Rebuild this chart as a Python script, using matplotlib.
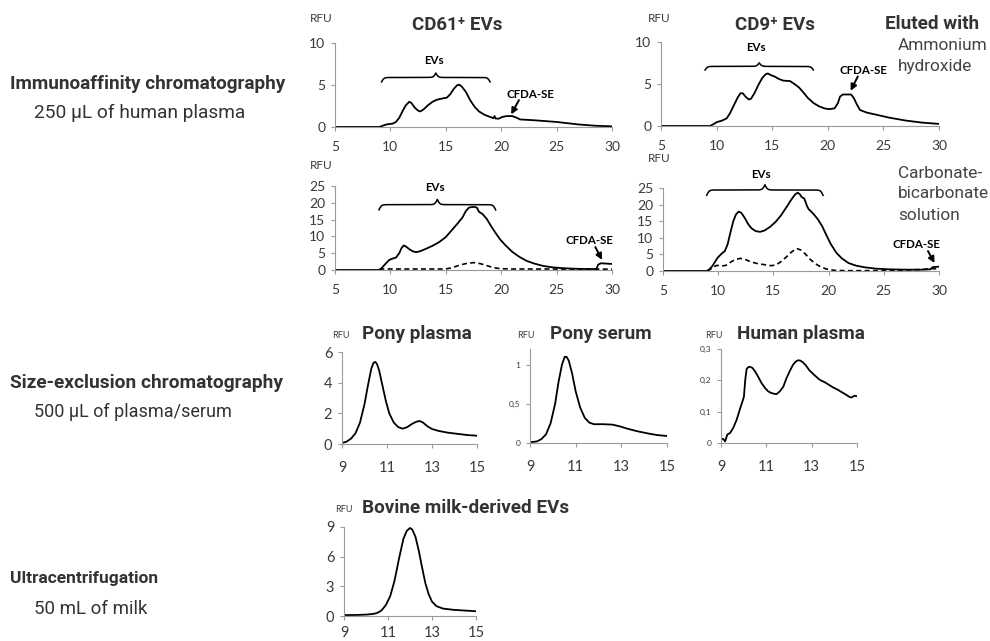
import numpy as np
import matplotlib
matplotlib.use("Agg")
from matplotlib import pyplot as plt

plt.rcParams['font.family'] = ['Lato', 'DejaVu Sans']

W, H = 990, 641
TXT = '#333333'
AXC = '#9a9a9a'

# ---- immunoaffinity, ammonium hydroxide elution ----
cd61_ah_x = [5, 9.0, 9.3, 9.7, 10.2, 10.5, 10.8, 11.1, 11.4, 11.7, 11.9, 12.2, 12.5, 12.7, 13.0,
             13.4, 13.8, 14.2, 14.7, 15.1, 15.4, 15.7, 16.0, 16.2, 16.45, 16.8, 17.2, 17.6,
             18.0, 18.5, 19.0, 19.3, 19.4, 19.5, 19.8, 20.1, 20.5, 21.0, 21.4, 21.7, 23.0,
             25.0, 27.0, 28.5, 30]
cd61_ah_y = [0, 0, 0.15, 0.32, 0.4, 0.6, 1.1, 1.9, 2.6, 3.0, 2.85, 2.3, 1.95, 1.85, 2.1,
             2.6, 3.0, 3.25, 3.4, 3.5, 3.9, 4.5, 4.95, 5.05, 4.8, 4.2, 3.2, 2.4,
             1.85, 1.45, 1.2, 1.05, 1.3, 1.0, 1.0, 1.2, 1.3, 1.3, 1.1, 0.9, 0.8,
             0.6, 0.3, 0.15, 0.08]

cd9_ah_x = [5, 9.4, 9.7, 10.0, 10.5, 10.9, 11.2, 11.6, 11.9, 12.15, 12.35, 12.6, 12.9, 13.1,
            13.4, 13.8, 14.1, 14.4, 14.6, 14.9, 15.2, 15.6, 16.0, 16.6, 17.0, 17.4, 17.8,
            18.2, 18.7, 19.2, 19.7, 20.1, 20.6, 20.9, 21.1, 21.35, 22.1, 22.35, 22.6, 22.9,
            23.5, 24.5, 25.5, 27.0, 28.5, 30]
cd9_ah_y = [0, 0, 0.2, 0.45, 0.65, 0.9, 1.5, 2.6, 3.4, 3.9, 3.9, 3.5, 3.15, 3.25,
            3.9, 5.0, 5.7, 6.15, 6.25, 6.05, 5.9, 5.6, 5.4, 5.35, 5.0, 4.6, 4.0,
            3.35, 2.75, 2.35, 2.1, 2.0, 2.1, 2.7, 3.5, 3.75, 3.75, 3.3, 2.6, 1.9,
            1.6, 1.3, 1.0, 0.65, 0.4, 0.25]

# ---- immunoaffinity, carbonate-bicarbonate elution ----
cd61_cb_x = [5, 9.05, 9.3, 9.6, 9.9, 10.2, 10.5, 10.8, 11.0, 11.2, 11.4, 11.7, 12.0, 12.3,
             12.7, 13.2, 13.8, 14.4, 15.0, 15.5, 16.0, 16.5, 16.8, 17.1, 17.5, 17.8, 18.0,
             18.3, 18.7, 19.1, 19.5, 19.9, 20.4, 21.0, 21.6, 22.3, 23.0, 23.8, 24.6, 25.5,
             26.5, 27.5, 28.6, 28.75, 29.0, 30]
cd61_cb_y = [0, 0, 0.9, 2.0, 3.0, 3.4, 3.7, 5.0, 6.5, 7.3, 7.0, 6.2, 5.6, 5.3,
             5.6, 6.3, 7.2, 8.3, 9.8, 11.7, 13.6, 15.6, 17.5, 18.6, 18.8, 18.6, 17.3,
             16.7, 15.2, 13.0, 11.0, 9.1, 7.3, 5.4, 4.0, 2.7, 1.9, 1.2, 0.8, 0.55,
             0.4, 0.3, 0.3, 1.6, 2.0, 1.8]
cd61_cb_ctrl_x = [9.0, 15.0, 15.6, 16.2, 16.8, 17.5, 18.1, 18.7, 19.3, 19.9, 21.0, 30]
cd61_cb_ctrl_y = [0.3, 0.3, 0.7, 1.4, 1.9, 2.2, 1.9, 1.3, 0.7, 0.4, 0.3, 0.25]

cd9_cb_x = [5, 8.98, 9.2, 9.45, 9.7, 9.95, 10.3, 10.6, 10.85, 11.1, 11.35, 11.6, 11.85, 12.1,
            12.4, 12.7, 13.0, 13.4, 13.8, 14.2, 14.7, 15.2, 15.7, 16.2, 16.6, 16.95, 17.2,
            17.4, 17.55, 17.8, 18.05, 18.2, 18.6, 19.0, 19.4, 19.8, 20.2, 20.7, 21.2, 21.8,
            22.5, 23.3, 24.3, 25.5, 27.0, 28.5, 29.2, 29.45, 30]
cd9_cb_y = [0, 0, 0.5, 1.4, 2.7, 4.0, 5.2, 6.0, 8.0, 11.5, 14.8, 17.0, 17.9, 17.5,
            16.0, 14.2, 12.9, 12.0, 11.8, 12.2, 13.3, 14.8, 16.8, 19.3, 21.4, 23.0, 23.6,
            23.1, 22.3, 21.8, 19.5, 18.6, 17.3, 15.7, 13.6, 10.8, 8.1, 5.5, 3.8, 2.4,
            1.6, 1.1, 0.7, 0.5, 0.4, 0.4, 0.5, 1.2, 1.3]
cd9_cb_ctrl_x = [9.0, 9.3, 9.6, 9.9, 10.3, 10.7, 11.1, 11.5, 12.0, 12.5, 13.0, 13.6, 14.2, 14.8,
                 15.2, 15.6, 16.1, 16.6, 17.1, 17.5, 17.9, 18.3, 18.8, 19.3, 19.8, 20.5, 21.5,
                 25.0, 28.0, 29.5, 30]
cd9_cb_ctrl_y = [0.0, 0.5, 1.3, 1.7, 1.5, 1.7, 2.6, 3.4, 3.8, 3.4, 2.7, 2.2, 1.9, 1.6,
                 1.8, 2.6, 4.0, 5.6, 6.8, 6.3, 5.1, 3.6, 2.2, 1.2, 0.6, 0.2, 0.1,
                 0.1, 0.4, 0.7, 0.7]

# ---- size-exclusion chromatography ----
pony_plasma_x = [9.0, 9.2, 9.4, 9.6, 9.8, 10.0, 10.15, 10.3, 10.4, 10.48, 10.56, 10.65, 10.8,
                 10.95, 11.1, 11.3, 11.5, 11.7, 11.9, 12.1, 12.3, 12.45, 12.6, 12.8, 13.0,
                 13.3, 13.7, 14.2, 14.6, 15.0]
pony_plasma_y = [0.07, 0.15, 0.35, 0.7, 1.4, 2.6, 3.8, 4.9, 5.3, 5.35, 5.2, 4.8, 3.8,
                 2.8, 2.0, 1.4, 1.1, 1.0, 1.1, 1.3, 1.45, 1.5, 1.4, 1.15, 0.98,
                 0.85, 0.74, 0.65, 0.58, 0.54]

pony_serum_x = [9.0, 9.3, 9.5, 9.7, 9.9, 10.1, 10.25, 10.4, 10.52, 10.6, 10.7, 10.85, 11.0,
                11.2, 11.4, 11.6, 11.8, 12.2, 12.6, 12.9, 13.3, 13.7, 14.2, 14.6, 15.0]
pony_serum_y = [0.01, 0.02, 0.05, 0.11, 0.25, 0.5, 0.78, 1.0, 1.1, 1.1, 1.05, 0.88, 0.66,
                0.45, 0.32, 0.26, 0.24, 0.24, 0.235, 0.215, 0.18, 0.15, 0.12, 0.1, 0.09]

human_plasma_x = [9.0, 9.1, 9.18, 9.28, 9.4, 9.54, 9.69, 9.84, 10.01, 10.07, 10.13, 10.2,
                  10.28, 10.38, 10.5, 10.65, 10.79, 10.95, 11.08, 11.2, 11.35, 11.45, 11.6,
                  11.75, 11.89, 12.05, 12.18, 12.3, 12.4, 12.5, 12.62, 12.75, 12.9, 13.1,
                  13.35, 13.6, 13.93, 14.15, 14.38, 14.5, 14.67, 14.75, 14.89, 15.0]
human_plasma_y = [0.013, 0.013, 0.005, 0.027, 0.032, 0.048, 0.074, 0.109, 0.147, 0.202, 0.236,
                  0.242, 0.243, 0.24, 0.229, 0.21, 0.191, 0.175, 0.165, 0.16, 0.157, 0.156,
                  0.165, 0.18, 0.207, 0.232, 0.25, 0.26, 0.264, 0.263, 0.257, 0.247, 0.232,
                  0.218, 0.202, 0.193, 0.178, 0.17, 0.16, 0.155, 0.147, 0.145, 0.151, 0.149]

# ---- ultracentrifugation ----
bovine_x = [9.0, 9.5, 10.0, 10.3, 10.5, 10.7, 10.9, 11.1, 11.3, 11.5, 11.7, 11.85, 12.0, 12.1,
            12.25, 12.4, 12.55, 12.7, 12.85, 13.0, 13.2, 13.5, 14.0, 14.5, 15.0]
bovine_y = [0.1, 0.1, 0.14, 0.2, 0.3, 0.55, 1.1, 2.0, 3.6, 5.8, 7.8, 8.6, 8.9, 8.75,
            8.0, 6.6, 4.9, 3.3, 2.2, 1.45, 1.0, 0.75, 0.62, 0.55, 0.48]

fig = plt.figure(figsize=(W / 100, H / 100), dpi=100)


def px_axes(l, t, r, b):
    return fig.add_axes([l / W, 1 - b / H, (r - l) / W, (b - t) / H])


def ftxt(x, y, s, **kw):
    kw.setdefault('va', 'center')
    kw.setdefault('color', TXT)
    fig.text(x / W, 1 - y / H, s, **kw)


def style(ax, xlim, ylim, xticks, yticks, yfmt=None, xsize=10, ysize=10, xpad=7):
    ax.set_xlim(xlim)
    ax.set_ylim(ylim)
    ax.set_xticks(xticks)
    ax.set_yticks(yticks)
    if yfmt:
        ax.set_yticklabels(yfmt)
    for s in ['top', 'right']:
        ax.spines[s].set_visible(False)
    for s in ['left', 'bottom']:
        ax.spines[s].set_color(AXC)
        ax.spines[s].set_linewidth(0.8)
    ax.tick_params(axis='x', length=3, color=AXC, width=0.8, labelsize=xsize,
                   labelcolor='#3a3a3a', pad=xpad)
    ax.tick_params(axis='y', length=3, color=AXC, width=0.8, labelsize=ysize,
                   labelcolor='#3a3a3a', pad=4)
    ax.patch.set_alpha(0)


def curve(ax, x, y, **kw):
    ax.plot(x, y, color='black', lw=1.3, solid_joinstyle='round',
            solid_capstyle='round', **kw)


def brace(ax, x0, x1, y, h, b=9.0):
    xm = (x0 + x1) / 2
    xs = np.linspace(x0, xm, 120)
    f = 1 / (1 + np.exp(-b * (xs - x0))) + 1 / (1 + np.exp(-b * (xs - xm)))
    ys = y + (f - 0.5) * h
    xx = np.concatenate([xs, (2 * xm - xs)[::-1]])
    yy = np.concatenate([ys, ys[::-1]])
    ax.plot(xx, yy, color='black', lw=1.1, clip_on=False)


def note(ax, x, y, s):
    ax.text(x, y, s, ha='center', va='center', fontsize=8.3, fontweight='bold',
            color='black', clip_on=False)


def arrow(ax, tip, tail):
    ax.annotate('', xy=tip, xytext=tail,
                arrowprops=dict(arrowstyle='-|>', color='black', lw=1.4,
                                mutation_scale=9, shrinkA=0, shrinkB=0),
                annotation_clip=False)


# top row: ammonium hydroxide
ax1 = px_axes(335, 43, 612, 127)
curve(ax1, cd61_ah_x, cd61_ah_y)
style(ax1, (5, 30), (0, 10), [5, 10, 15, 20, 25, 30], [0, 5, 10])
brace(ax1, 9.2, 19.0, 5.37, 1.05)
note(ax1, 13.9, 7.9, 'EVs')
note(ax1, 22.6, 3.9, 'CFDA-SE')
arrow(ax1, (20.9, 1.5), (21.6, 3.2))

ax2 = px_axes(661, 42, 939, 126)
curve(ax2, cd9_ah_x, cd9_ah_y)
style(ax2, (5, 30), (0, 10), [5, 10, 15, 20, 25, 30], [0, 5, 10])
brace(ax2, 8.96, 18.7, 6.67, 0.85)
note(ax2, 13.5, 9.3, 'EVs')
note(ax2, 23.2, 6.6, 'CFDA-SE')
arrow(ax2, (22.05, 4.2), (22.7, 5.9))

# second row: carbonate-bicarbonate
ax3 = px_axes(335, 186, 612, 270)
curve(ax3, cd61_cb_x, cd61_cb_y)
ax3.plot(cd61_cb_ctrl_x, cd61_cb_ctrl_y, color='black', lw=1.2, dashes=(3, 2))
style(ax3, (5, 30), (0, 25), [5, 10, 15, 20, 25, 30], [0, 5, 10, 15, 20, 25])
brace(ax3, 8.97, 19.5, 17.9, 3.1)
note(ax3, 14.0, 24.6, 'EVs')
note(ax3, 28.0, 8.7, 'CFDA-SE')
arrow(ax3, (29.1, 3.0), (28.5, 6.8))

ax4 = px_axes(663, 188, 939, 271)
curve(ax4, cd9_cb_x, cd9_cb_y)
ax4.plot(cd9_cb_ctrl_x, cd9_cb_ctrl_y, color='black', lw=1.2, dashes=(3, 2))
style(ax4, (5, 30), (0, 25), [5, 10, 15, 20, 25, 30], [0, 5, 10, 15, 20, 25])
brace(ax4, 8.96, 19.5, 22.8, 3.2)
note(ax4, 13.9, 29.0, 'EVs')
note(ax4, 28.0, 8.0, 'CFDA-SE')
arrow(ax4, (29.6, 2.4), (29.0, 6.0))

# size-exclusion row
ax5 = px_axes(342, 352, 477, 444)
curve(ax5, pony_plasma_x, pony_plasma_y)
style(ax5, (9, 15), (0, 6), [9, 11, 13, 15], [0, 2, 4, 6], xsize=10.5, ysize=10.5, xpad=9)

ax6 = px_axes(530, 349, 667, 443)
curve(ax6, pony_serum_x, pony_serum_y)
style(ax6, (9, 15), (0, 1.2), [9, 11, 13, 15], [0, 0.5, 1], yfmt=['0', '0,5', '1'],
      xsize=10.5, ysize=6, xpad=9)

ax7 = px_axes(721, 349, 857, 443)
ax7.plot(human_plasma_x, human_plasma_y, color='black', lw=1.3, solid_joinstyle='round')
style(ax7, (9, 15), (0, 0.3), [9, 11, 13, 15], [0, 0.1, 0.2, 0.3],
      yfmt=['0', '0,1', '0,2', '0,3'], xsize=10.5, ysize=6, xpad=9)

# ultracentrifugation row
ax8 = px_axes(344, 527, 476, 616)
curve(ax8, bovine_x, bovine_y)
style(ax8, (9, 15), (0, 9), [9, 11, 13, 15], [0, 3, 6, 9], xsize=10.5, ysize=10.5, xpad=4)

# panel titles and axis labels
RB = ['Roboto', 'DejaVu Sans']
ftxt(457, 25, 'CD61\u207a EVs', ha='center', fontsize=13.5, fontweight='bold', family=RB)
ftxt(775, 25, 'CD9\u207a EVs', ha='center', fontsize=13.5, fontweight='bold', family=RB)
ftxt(885, 24, 'Eluted with', ha='left', fontsize=13.6, fontweight='bold', family=RB)
for y, s in [(45, 'Ammonium'), (67, 'hydroxide'),
             (173, 'Carbonate-'), (194, 'bicarbonate'), (215, 'solution')]:
    ftxt(898, y, s, ha='left', fontsize=12.4, family=RB, color='#444444')

for x, y in [(310, 18), (648, 18), (310, 165), (648, 158)]:
    ftxt(x, y, 'RFU', ha='left', fontsize=8.5, color='#3a3a3a')
for x, y in [(332, 336), (517, 336), (705, 336), (335, 509)]:
    ftxt(x, y, 'RFU', ha='left', fontsize=6.5, color='#3a3a3a')

ftxt(362, 334, 'Pony plasma', ha='left', fontsize=13.6, fontweight='bold', family=RB)
ftxt(550, 334, 'Pony serum', ha='left', fontsize=13.6, fontweight='bold', family=RB)
ftxt(737, 334, 'Human plasma', ha='left', fontsize=13.6, fontweight='bold', family=RB)
ftxt(362, 508, 'Bovine milk-derived EVs', ha='left', fontsize=13.6, fontweight='bold', family=RB)

# method descriptions on the left
ftxt(10, 84, 'Immunoaffinity chromatography', ha='left', fontsize=13.6, fontweight='bold', family=RB)
ftxt(34, 113, '250 \u00b5L of human plasma', ha='left', fontsize=13.8, family=RB)
ftxt(10, 383, 'Size-exclusion chromatography', ha='left', fontsize=13.8, fontweight='bold', family=RB)
ftxt(34, 412, '500 \u00b5L of plasma/serum', ha='left', fontsize=13, family=RB)
ftxt(10, 579, 'Ultracentrifugation', ha='left', fontsize=12.5, fontweight='bold', family=RB)
ftxt(34, 609, '50 mL of milk', ha='left', fontsize=13.5, family=RB)

fig.savefig('out.png', dpi=100)
